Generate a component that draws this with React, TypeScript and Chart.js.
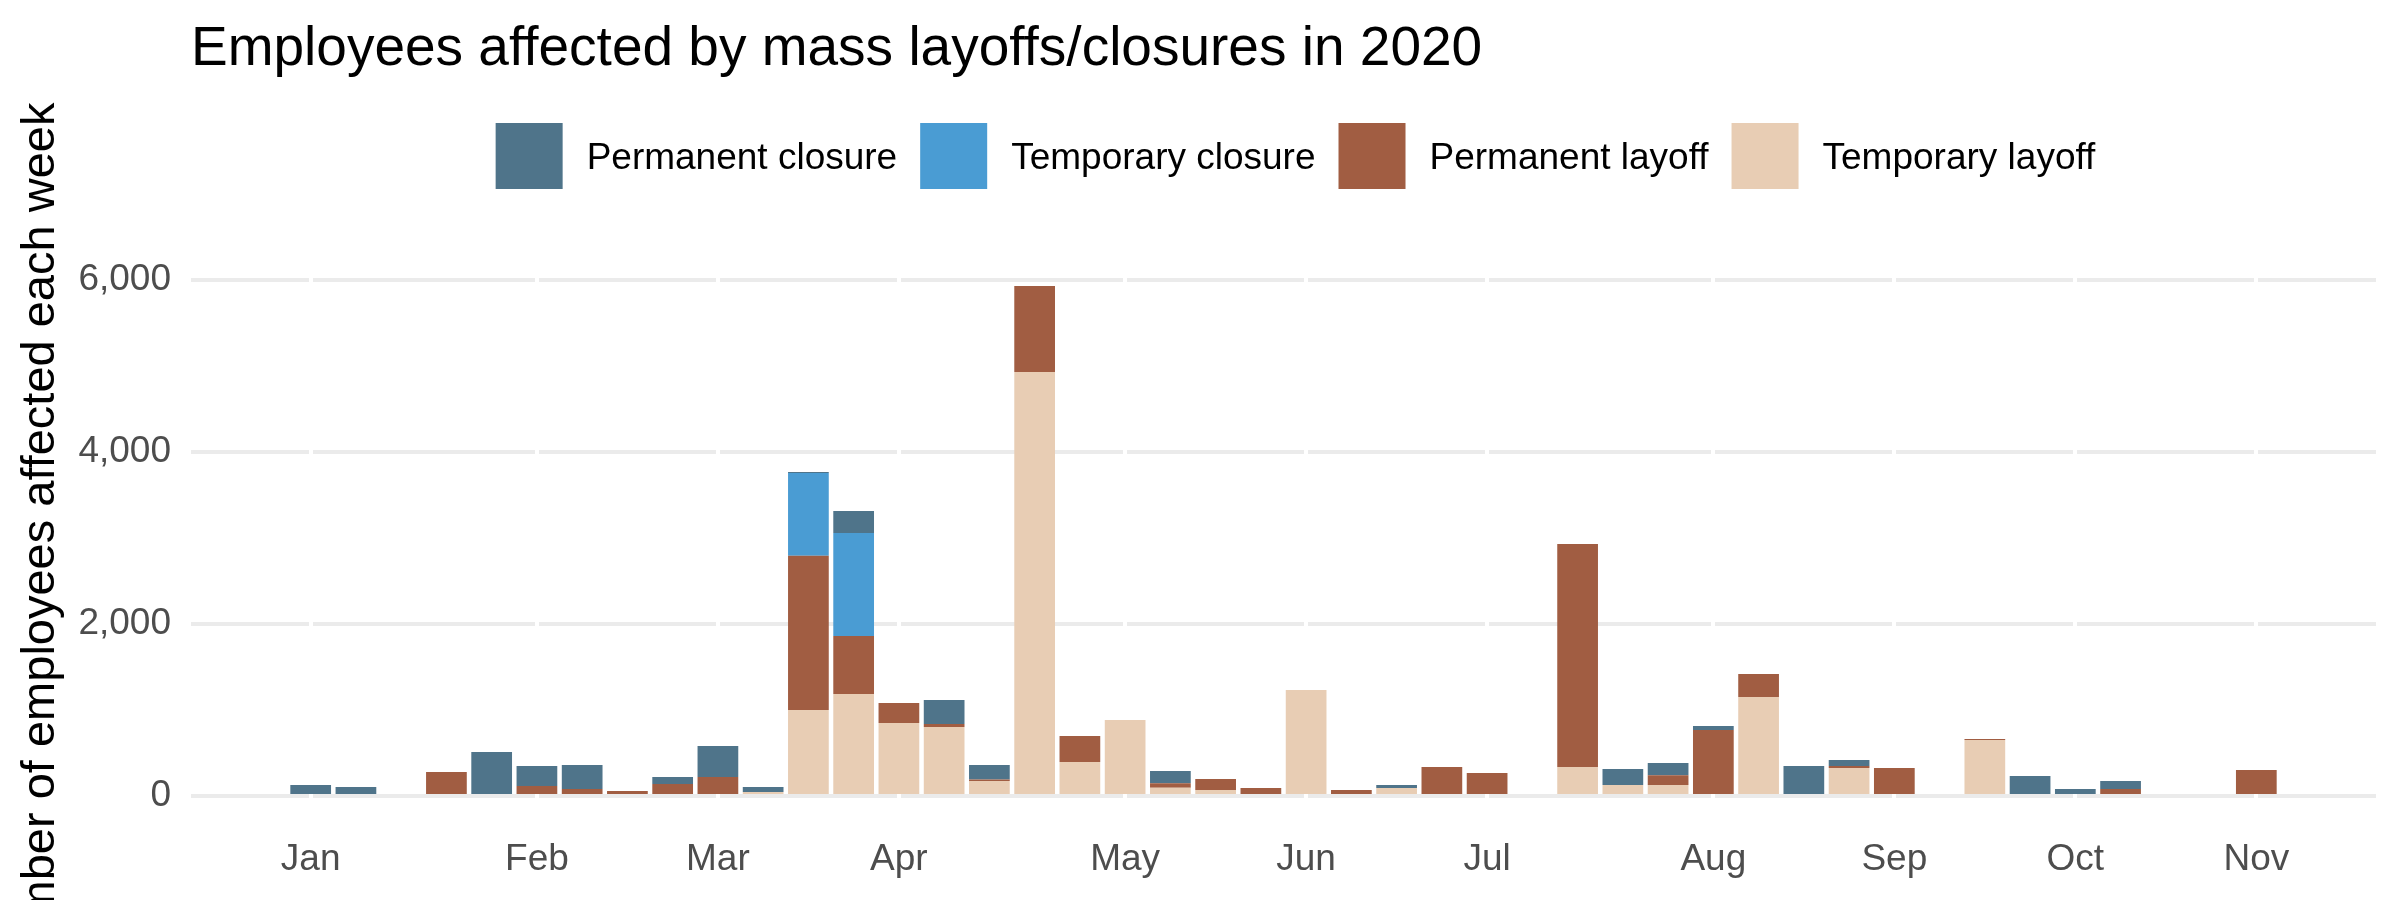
import React, { useEffect, useRef } from 'react';
import { Chart, registerables } from 'chart.js';

Chart.register(...registerables);

// ---- Data (one entry per week of 2020) ----
const WEEKS = [
  1, 2, 3, 4, 5, 6, 7, 8, 9, 10, 11, 12, 13, 14, 15, 16, 17, 18, 19, 20, 21, 22,
  23, 24, 25, 26, 27, 28, 29, 30, 31, 32, 33, 34, 35, 36, 37, 38, 39, 40, 41, 42, 43, 44,
];

const TEMPORARY_LAYOFF = [
  0, 0, 0, 0, 0, 0, 0, 0, 0, 0, 47, 1000, 1186, 849, 803, 174, 4930, 395, 884, 97, 70, 0,
  1233, 0, 93, 0, 0, 0, 337, 128, 128, 0, 1151, 0, 326, 0, 0, 651, 0, 0, 0, 0, 0, 0,
];

const PERMANENT_LAYOFF = [
  0, 0, 0, 279, 0, 116, 81, 58, 140, 221, 0, 1795, 675, 233, 35, 19, 1000, 302, 0, 50, 128, 93,
  0, 70, 0, 337, 267, 0, 2594, 0, 112, 768, 267, 0, 23, 326, 0, 12, 0, 0, 81, 0, 0, 302,
];

const TEMPORARY_CLOSURE = [
  0, 0, 0, 0, 0, 0, 0, 0, 0, 0, 0, 961, 1198, 0, 0, 0, 0, 0, 0, 0, 0, 0,
  0, 0, 0, 0, 0, 0, 0, 0, 0, 0, 0, 0, 0, 0, 0, 0, 0, 0, 0, 0, 0, 0,
];

const PERMANENT_CLOSURE = [
  128, 105, 0, 0, 512, 233, 280, 0, 81, 361, 58, 12, 256, 0, 279, 167, 0, 0, 0, 143, 0, 0,
  0, 0, 35, 0, 0, 0, 0, 186, 143, 46, 0, 349, 70, 0, 0, 0, 233, 81, 93, 0, 0, 0,
];

const MONTH_WEEKS = [1, 6, 10, 14, 19, 23, 27, 32, 36, 40, 44];
const MONTH_LABELS = ['Jan', 'Feb', 'Mar', 'Apr', 'May', 'Jun', 'Jul', 'Aug', 'Sep', 'Oct', 'Nov'];
const Y_TICKS = [0, 2000, 4000, 6000];

const TITLE = 'Employees affected by mass layoffs/closures in 2020';
const Y_TITLE = 'Number of employees affected each week';

// ---- Styles ----
const FONT = '"Liberation Sans", Arial, Helvetica, sans-serif';
const COLORS = {
  permClosure: '#4F748A',
  tempClosure: '#4A9CD3',
  permLayoff: '#A15D42',
  tempLayoff: '#E8CDB4',
};

// ggplot-like expansion of the scales (5% of data range on each side)
const BAR_FRACTION = 0.9;
const xLo = WEEKS[0] - BAR_FRACTION / 2;
const xHi = WEEKS[WEEKS.length - 1] + BAR_FRACTION / 2;
const X_MIN = xLo - 0.05 * (xHi - xLo);
const X_MAX = xHi + 0.05 * (xHi - xLo);
const totals = WEEKS.map(
  (_, i) => TEMPORARY_LAYOFF[i] + PERMANENT_LAYOFF[i] + TEMPORARY_CLOSURE[i] + PERMANENT_CLOSURE[i]
);
const yTop = Math.max(...totals);
const Y_MIN = -0.05 * yTop;
const Y_MAX = yTop * 1.05;

const legendPlugin = {
  id: 'ggLegend',
  afterDraw(chart: any) {
    const { ctx, chartArea } = chart;
    const items = chart.data.datasets.slice().reverse();
    const BOX_W = 67;
    const BOX_H = 66;
    const BOX_TOP = 123;
    const GAP_TEXT = 24;
    const GAP_ITEM = 23;
    ctx.save();
    ctx.font = `37px ${FONT}`;
    const widths = items.map((d: any) => ctx.measureText(d.label).width);
    const total =
      widths.reduce((a: number, b: number) => a + b, 0) +
      items.length * (BOX_W + GAP_TEXT) +
      (items.length - 1) * GAP_ITEM;
    let x = (chartArea.left + chartArea.right) / 2 + 12 - total / 2;
    ctx.textBaseline = 'middle';
    ctx.textAlign = 'left';
    items.forEach((d: any, i: number) => {
      ctx.fillStyle = d.backgroundColor;
      ctx.fillRect(x, BOX_TOP, BOX_W, BOX_H);
      ctx.fillStyle = '#000000';
      ctx.fillText(d.label, x + BOX_W + GAP_TEXT, BOX_TOP + BOX_H / 2 + 3);
      x += BOX_W + GAP_TEXT + widths[i] + GAP_ITEM;
    });
    ctx.restore();
  },
};

export default function App() {
  const canvasRef = useRef<HTMLCanvasElement | null>(null);

  useEffect(() => {
    document.body.style.margin = '0';
    const canvas = canvasRef.current;
    if (!canvas) return;
    const tickFont = { family: FONT, size: 37 };
    const chart = new Chart(canvas, {
      type: 'bar',
      data: {
        labels: WEEKS,
        datasets: [
          { label: 'Temporary layoff', data: TEMPORARY_LAYOFF, backgroundColor: COLORS.tempLayoff },
          { label: 'Permanent layoff', data: PERMANENT_LAYOFF, backgroundColor: COLORS.permLayoff },
          { label: 'Temporary closure', data: TEMPORARY_CLOSURE, backgroundColor: COLORS.tempClosure },
          { label: 'Permanent closure', data: PERMANENT_CLOSURE, backgroundColor: COLORS.permClosure },
        ],
      },
      options: {
        responsive: false,
        animation: false,
        devicePixelRatio: 1,
        events: [],
        layout: { padding: { left: 0, right: 24, top: 0, bottom: 0 } },
        datasets: {
          bar: { barPercentage: BAR_FRACTION, categoryPercentage: 1, borderWidth: 0 },
        },
        plugins: {
          legend: { display: false },
          tooltip: { enabled: false },
          title: {
            display: true,
            text: TITLE,
            align: 'start',
            fullSize: false,
            color: '#000000',
            font: { family: FONT, size: 55, weight: 'normal', lineHeight: 1.2 },
            padding: { top: 17, bottom: 177.6 },
          },
        },
        scales: {
          x: {
            type: 'linear',
            stacked: true,
            min: X_MIN,
            max: X_MAX,
            offset: false,
            afterBuildTicks: (scale: any) => {
              scale.ticks = MONTH_WEEKS.map((v) => ({ value: v }));
            },
            afterFit: (scale: any) => {
              scale.height = 78.5;
            },
            ticks: {
              callback: (_v: any, i: number) => MONTH_LABELS[i],
              color: '#4D4D4D',
              font: tickFont,
              padding: 16,
              autoSkip: false,
              maxRotation: 0,
              minRotation: 0,
            },
            grid: { color: '#FFFFFF', lineWidth: 4, drawTicks: false, offset: false, z: -1 },
            border: { display: false },
          },
          y: {
            stacked: true,
            min: Y_MIN,
            max: Y_MAX,
            afterBuildTicks: (scale: any) => {
              scale.ticks = Y_TICKS.map((v) => ({ value: v }));
            },
            afterFit: (scale: any) => {
              scale.width = 191;
            },
            ticks: {
              callback: (v: any) => Number(v).toLocaleString('en-US'),
              color: '#4D4D4D',
              font: tickFont,
              padding: 20,
            },
            grid: { color: '#EBEBEB', lineWidth: 4, drawTicks: false, z: -2 },
            border: { display: false },
            title: {
              display: true,
              text: Y_TITLE,
              color: '#000000',
              font: { family: FONT, size: 47, lineHeight: 1.2 },
              padding: { top: 13, bottom: 0 },
            },
          },
        },
      } as any,
      plugins: [legendPlugin],
    });
    return () => chart.destroy();
  }, []);

  return (
    <div style={{ width: 2400, height: 900, background: '#FFFFFF' }}>
      <canvas ref={canvasRef} width={2400} height={900} style={{ display: 'block' }} />
    </div>
  );
}
